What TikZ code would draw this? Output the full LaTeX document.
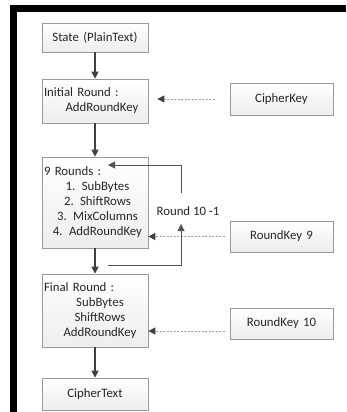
\documentclass[tikz,border=0pt]{standalone}
\usepackage{fontspec}
\setmainfont{Carlito}
\usetikzlibrary{arrows.meta,calc}
\definecolor{arr}{HTML}{404040}
\definecolor{boxline}{HTML}{9A9A9A}
\definecolor{dash}{HTML}{A0A0A0}
\newcommand\myctrline[2]{\makebox[102pt][c]{\hspace*{#1}#2}}
\newcommand\myleftline[1]{\makebox[102pt][l]{#1}}
\begin{document}
\begin{tikzpicture}[x=1pt,y=-1pt,
  box/.style={draw=boxline,line width=0.7pt,top color=white,bottom color=gray!14,
    minimum width=106pt,inner sep=2pt,text width=102pt,align=left,
    font=\fontsize{12.8}{15}\selectfont,text=black!85},
  keybox/.style={box,minimum width=103pt,text width=99pt,align=center},
  flow/.style={draw=arr,line width=1.1pt,-{Triangle[width=7pt,length=7pt]}},
  loopline/.style={draw=arr!90,line width=1pt,-{Triangle[width=7pt,length=7pt]}},
  dasharrow/.style={draw=dash,line width=0.8pt,dash pattern=on 2pt off 1.5pt,
    -{Triangle[width=7pt,length=7pt,color=arr,fill=arr]}}]
\useasboundingbox (0,0) rectangle (346,412);
\fill[white] (0,0) rectangle (346,412);
\fill[black] (10,5) rectangle (346,12);
\fill[black] (10,5) rectangle (16.5,412);

\node[box,minimum height=29pt,align=center] (s) at (95,37.5) {State (PlainText)};
\node[box,minimum height=44pt] (init) at (95,101) {\myleftline{Initial Round :}\\\myctrline{14pt}{AddRoundKey}};
\node[keybox,minimum height=32pt] (ck) at (281.5,99) {CipherKey};
\node[box,minimum height=91pt] (r9) at (95,202.5) {\myleftline{9 Rounds :}\\\myctrline{5pt}{1. SubBytes}\\\myctrline{5pt}{2. ShiftRows}\\\myctrline{5pt}{3. MixColumns}\\\myctrline{5pt}{4. AddRoundKey}};
\node[keybox,minimum height=31pt] (rk9) at (281.5,236.5) {RoundKey 9};
\node[box,minimum height=73pt] (fin) at (95,310.5) {\myleftline{Final Round :}\\\myctrline{10pt}{SubBytes}\\\myctrline{10pt}{ShiftRows}\\\myctrline{10pt}{AddRoundKey}};
\node[keybox,minimum height=31pt] (rk10) at (281.5,323.5) {RoundKey 10};
\node[box,minimum height=32pt,align=center] (ct) at (95,394) {CipherText};
\node[font=\fontsize{12.8}{15}\selectfont,text=black!85] (lbl) at (188,211) {Round 10 -1};

\draw[flow] (s) -- (init);
\draw[flow] (init) -- (r9);
\draw[flow] (r9) -- (fin);
\draw[flow] (fin) -- (ct);

\draw[dasharrow] ($(ck.west)+(-15,0)$) -- ($(init.east |- ck.west)+(9,0)$);
\draw[dasharrow] ($(rk9.west)+(-5,0)$) -- (r9.east |- rk9.west);
\coordinate (k10) at ($(rk10.west)+(-5,7.5)$);
\draw[dasharrow] (k10) -- (fin.east |- k10);

\coordinate (loopout) at (108,265);
\coordinate (loopmid) at (181,224);
\coordinate (looptop) at (181,193);
\coordinate (loopin) at (108,165);
\draw[loopline] (loopout) -| (loopmid);
\draw[loopline] (looptop) |- (loopin);
\end{tikzpicture}
\end{document}
